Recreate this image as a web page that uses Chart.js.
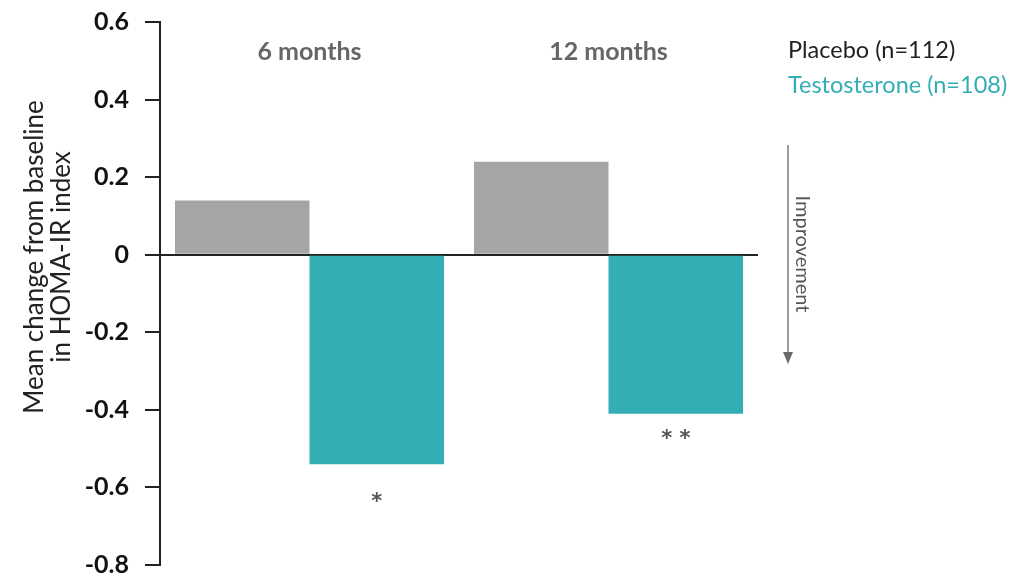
<!DOCTYPE html>
<html>
<head>
<meta charset="utf-8">
<script src="https://cdn.jsdelivr.net/npm/chart.js@4"></script>
<style>
  html, body { margin: 0; padding: 0; background: #fff; }
  #wrap { width: 1013px; height: 577px; position: relative; }
</style>
</head>
<body>
<div id="wrap"><canvas id="chart"></canvas></div>
<script>
const periods = ["6 months", "12 months"];
const placebo = [0.14, 0.24];
const testosterone = [-0.54, -0.41];
const significance = ["*", "**"];
const seriesLabels = ["Placebo (n=112)", "Testosterone (n=108)"];
const yTitle = ["Mean change from baseline", "in HOMA-IR index"];
const yTicks = [0.6, 0.4, 0.2, 0, -0.2, -0.4, -0.6, -0.8];

const GREY = "#a5a5a6";
const TEAL = "#33aeb5";
const FONT = "Lato, 'Noto Sans', sans-serif";
const STAR_GAP = [38, 26];

// axis title, period titles, legend text, stars and the "Improvement" arrow
const overlay = {
  id: "overlay",
  afterDatasetsDraw(chart) {
    const { ctx, scales: { x } } = chart;
    ctx.save();
    ctx.textBaseline = "middle";
    ctx.textAlign = "center";

    ctx.save();
    ctx.translate(0, 257);
    ctx.rotate(-Math.PI / 2);
    ctx.font = "26px " + FONT;
    ctx.fillStyle = "#222";
    yTitle.forEach((t, i) => ctx.fillText(t, 0, 35 + i * 27));
    ctx.restore();

    ctx.font = "bold 25px " + FONT;
    ctx.fillStyle = "#666";
    periods.forEach((p, i) => ctx.fillText(p, x.getPixelForValue(i), 52));

    // stars under the testosterone bars
    const meta = chart.getDatasetMeta(1);
    ctx.font = "bold 21px 'DejaVu Sans', sans-serif";
    ctx.fillStyle = "#555";
    meta.data.forEach((bar, i) => {
      ctx.fillText(significance[i].split("").join(" "), bar.x, bar.y + STAR_GAP[i]);
    });

    // legend
    ctx.textAlign = "left";
    ctx.font = "23.5px " + FONT;
    chart.data.datasets.forEach((ds, i) => {
      ctx.fillStyle = i === 0 ? "#222" : TEAL;
      ctx.fillText(ds.label, 788, 50 + i * 35);
    });

    // improvement arrow
    const ax = 788, top = 145, tip = 364;
    ctx.strokeStyle = "#7a7a7a";
    ctx.fillStyle = "#6a6a6a";
    ctx.lineWidth = 1.5;
    ctx.beginPath();
    ctx.moveTo(ax, top);
    ctx.lineTo(ax, tip - 10);
    ctx.stroke();
    ctx.beginPath();
    ctx.moveTo(ax - 5, tip - 12);
    ctx.lineTo(ax + 5, tip - 12);
    ctx.lineTo(ax, tip);
    ctx.closePath();
    ctx.fill();

    ctx.translate(802, 254);
    ctx.rotate(Math.PI / 2);
    ctx.font = "20px " + FONT;
    ctx.fillStyle = "#555";
    ctx.textAlign = "center";
    ctx.fillText("Improvement", 0, 0);

    ctx.restore();
  }
};

new Chart(document.getElementById("chart"), {
  type: "bar",
  data: {
    labels: periods,
    datasets: [
      { label: seriesLabels[0], data: placebo, backgroundColor: GREY },
      { label: seriesLabels[1], data: testosterone, backgroundColor: TEAL }
    ]
  },
  options: {
    responsive: true,
    maintainAspectRatio: false,
    animation: false,
    layout: { padding: { top: 22, right: 255, bottom: 12, left: 0 } },
    plugins: { legend: { display: false }, tooltip: { enabled: false } },
    datasets: { bar: { categoryPercentage: 0.9, barPercentage: 1 } },
    scales: {
      x: { display: false },
      y: {
        min: -0.8,
        max: 0.6,
        afterBuildTicks(scale) {
          scale.ticks = yTicks.map((v) => ({ value: v }));
        },
        afterFit(scale) {
          scale.width = 160;
          scale.paddingTop = 0;
          scale.paddingBottom = 0;
        },
        border: { display: true, color: "#222", width: 2 },
        grid: {
          color: (c) => (c.tick && c.tick.value === 0 ? "#222" : "rgba(0,0,0,0)"),
          tickColor: "#222",
          tickLength: 15,
          lineWidth: 2
        },
        ticks: {
          color: "#111",
          padding: 16,
          font: { family: FONT, size: 25, weight: "bold" },
          callback: (v) => (v === 0 ? "0" : v.toFixed(1))
        }
      }
    }
  },
  plugins: [overlay]
});
</script>
</body>
</html>
